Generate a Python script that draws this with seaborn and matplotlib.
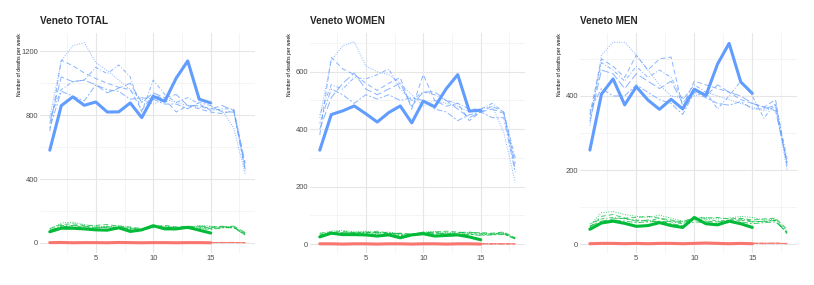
import pandas as pd
import numpy as np
import matplotlib
matplotlib.use("Agg")
import matplotlib.pyplot as plt
import seaborn as sns

weeks = list(range(1, 19))
weeks_2020 = list(range(1, 16))
years = [2015, 2016, 2017, 2018, 2019]

# ---- TOTAL ----
total_old = {
    2015: [790, 1140, 1235, 1255, 1130, 1080, 1020, 960, 900, 870, 900, 880, 860, 850, 840, 830, 720, 430],
    2016: [700, 1145, 1110, 1065, 1030, 1000, 975, 960, 830, 930, 900, 820, 860, 840, 820, 810, 830, 450],
    2017: [780, 960, 1010, 1020, 1100, 1060, 1115, 1040, 820, 1020, 930, 880, 910, 870, 830, 840, 840, 480],
    2018: [750, 1040, 1010, 1020, 990, 940, 970, 1000, 880, 940, 910, 930, 860, 860, 840, 860, 830, 500],
    2019: [720, 950, 920, 890, 990, 960, 950, 900, 910, 900, 870, 870, 840, 880, 860, 820, 820, 460],
}
total_old_2020 = [581, 860, 915, 862, 883, 820, 821, 877, 785, 918, 887, 1033, 1140, 900, 877]
total_mid = {
    2015: [85, 125, 130, 115, 105, 100, 110, 95, 85, 110, 105, 100, 95, 110, 105, 100, 100, 55],
    2016: [90, 115, 120, 110, 110, 115, 105, 100, 90, 100, 110, 100, 105, 100, 95, 105, 95, 60],
    2017: [75, 110, 105, 100, 100, 95, 100, 90, 80, 100, 95, 95, 100, 95, 90, 95, 100, 50],
    2018: [80, 100, 110, 105, 95, 100, 95, 85, 85, 105, 100, 90, 95, 105, 100, 100, 105, 65],
    2019: [70, 105, 100, 95, 90, 105, 90, 95, 80, 95, 100, 95, 90, 90, 85, 95, 95, 50],
}
total_mid_2020 = [70, 92, 92, 88, 82, 80, 95, 72, 82, 108, 88, 88, 98, 80, 62]
total_young = {
    2015: [3, 2, 4, 2, 3, 1, 2, 3, 4, 2, 3, 2, 1, 3, 2, 4, 3, 2],
    2016: [2, 4, 3, 1, 2, 3, 2, 1, 3, 4, 2, 3, 2, 2, 3, 2, 4, 1],
    2017: [4, 3, 2, 3, 1, 2, 4, 2, 2, 3, 1, 2, 3, 4, 2, 3, 2, 2],
    2018: [1, 2, 3, 4, 2, 3, 1, 3, 2, 2, 4, 3, 2, 1, 3, 2, 3, 1],
    2019: [2, 3, 1, 2, 4, 2, 3, 2, 1, 3, 2, 4, 3, 2, 1, 3, 2, 2],
}
total_young_2020 = [2, 3, 1, 2, 2, 1, 3, 2, 1, 2, 2, 1, 2, 2, 1]

# ---- WOMEN ----
women_old = {
    2015: [440, 640, 690, 705, 620, 600, 590, 560, 520, 480, 500, 490, 480, 460, 470, 480, 390, 215],
    2016: [380, 650, 610, 590, 560, 535, 560, 580, 470, 590, 500, 480, 490, 430, 460, 480, 460, 260],
    2017: [450, 555, 540, 580, 575, 590, 610, 540, 500, 530, 520, 500, 490, 470, 470, 490, 460, 300],
    2018: [400, 510, 560, 595, 540, 520, 540, 560, 480, 530, 530, 500, 470, 440, 460, 470, 455, 280],
    2019: [420, 540, 520, 490, 520, 505, 520, 500, 510, 500, 470, 460, 430, 450, 460, 440, 440, 250],
}
women_old_2020 = [327, 451, 464, 481, 454, 425, 458, 481, 422, 498, 478, 541, 590, 463, 466]
women_mid = {
    2015: [35, 45, 48, 42, 45, 40, 42, 35, 32, 42, 44, 40, 38, 40, 38, 35, 40, 20],
    2016: [38, 42, 44, 40, 38, 45, 38, 36, 35, 40, 42, 45, 42, 38, 40, 38, 42, 22],
    2017: [30, 40, 38, 42, 40, 38, 40, 32, 30, 38, 40, 38, 36, 35, 32, 36, 38, 18],
    2018: [32, 38, 40, 38, 42, 40, 36, 38, 34, 42, 38, 36, 40, 42, 36, 34, 36, 20],
    2019: [28, 36, 35, 34, 36, 34, 35, 30, 32, 35, 36, 34, 32, 34, 30, 32, 34, 18],
}
women_mid_2020 = [25, 38, 33, 33, 32, 28, 32, 22, 32, 36, 28, 30, 32, 25, 15]
women_young = {
    2015: [1, 2, 1, 0, 1, 2, 1, 1, 2, 0, 1, 1, 2, 1, 0, 1, 2, 1],
    2016: [2, 1, 0, 1, 2, 1, 0, 2, 1, 1, 2, 0, 1, 1, 2, 1, 0, 1],
    2017: [0, 1, 2, 1, 1, 0, 2, 1, 1, 2, 1, 1, 0, 2, 1, 1, 1, 0],
    2018: [1, 1, 1, 2, 0, 1, 1, 0, 2, 1, 0, 2, 1, 0, 1, 2, 1, 1],
    2019: [1, 0, 1, 1, 1, 2, 1, 1, 0, 1, 1, 1, 2, 1, 1, 0, 1, 1],
}
women_young_2020 = [1, 1, 0, 1, 1, 0, 1, 1, 0, 1, 1, 0, 1, 1, 0]

# ---- MEN ----
men_old = {
    2015: [320, 510, 545, 545, 510, 470, 430, 400, 395, 400, 410, 400, 390, 380, 370, 360, 370, 200],
    2016: [350, 500, 480, 450, 510, 470, 500, 505, 370, 440, 430, 420, 410, 390, 380, 370, 390, 210],
    2017: [340, 490, 470, 440, 480, 450, 470, 450, 390, 430, 410, 365, 400, 440, 400, 340, 380, 230],
    2018: [330, 470, 460, 420, 460, 440, 420, 440, 380, 420, 400, 430, 410, 400, 380, 370, 360, 220],
    2019: [360, 420, 400, 400, 430, 410, 390, 380, 350, 410, 395, 380, 375, 385, 365, 365, 375, 215],
}
men_old_2020 = [254, 405, 446, 376, 425, 389, 364, 391, 365, 418, 401, 486, 542, 438, 407]
men_mid = {
    2015: [50, 85, 88, 80, 75, 72, 78, 70, 62, 70, 72, 68, 70, 75, 72, 65, 68, 35],
    2016: [45, 75, 80, 70, 72, 75, 70, 65, 60, 72, 70, 72, 68, 70, 65, 68, 70, 40],
    2017: [55, 68, 72, 68, 65, 62, 70, 60, 55, 65, 68, 62, 65, 68, 62, 60, 65, 30],
    2018: [48, 62, 68, 70, 62, 65, 60, 62, 58, 68, 62, 60, 62, 65, 60, 62, 64, 28],
    2019: [42, 60, 65, 62, 58, 60, 62, 55, 50, 60, 58, 56, 58, 60, 55, 58, 60, 32],
}
men_mid_2020 = [40, 57, 62, 56, 48, 50, 58, 50, 45, 72, 55, 52, 62, 55, 45]
men_young = {
    2015: [2, 3, 2, 1, 2, 3, 2, 2, 3, 2, 3, 4, 2, 1, 2, 3, 2, 2],
    2016: [3, 2, 1, 2, 3, 2, 1, 3, 2, 3, 2, 3, 1, 2, 3, 2, 3, 1],
    2017: [1, 2, 3, 2, 2, 1, 3, 2, 1, 2, 4, 2, 3, 2, 1, 2, 2, 2],
    2018: [2, 1, 2, 3, 1, 2, 2, 1, 2, 1, 2, 3, 2, 3, 2, 1, 3, 1],
    2019: [2, 2, 1, 2, 3, 2, 2, 2, 1, 2, 3, 2, 2, 2, 2, 3, 1, 2],
}
men_young_2020 = [1, 2, 2, 1, 2, 1, 2, 2, 1, 2, 3, 2, 1, 2, 1]

panels = [
    ("Veneto TOTAL", total_young, total_young_2020, total_mid, total_mid_2020, total_old, total_old_2020,
     (-63, 1315), [0, 400, 800, 1200], [200, 600, 1000]),
    ("Veneto WOMEN", women_young, women_young_2020, women_mid, women_mid_2020, women_old, women_old_2020,
     (-31, 735), [0, 200, 400, 600], [100, 300, 500, 700]),
    ("Veneto MEN", men_young, men_young_2020, men_mid, men_mid_2020, men_old, men_old_2020,
     (-24, 570), [0, 200, 400], [100, 300, 500]),
]

palette = {"0-14": "#F8766D", "15-64": "#00BA38", "65+": "#619CFF"}
dashes = {2015: (1, 1.5), 2016: (5, 3), 2017: (1, 2, 4, 2), 2018: (8, 3), 2019: (2, 2, 6, 2)}


def build_frames(young, young20, mid, mid20, old, old20):
    rows = []
    for grp, d in (("0-14", young), ("15-64", mid), ("65+", old)):
        for y in years:
            for w, v in zip(weeks, d[y]):
                rows.append((grp, y, w, v))
    past = pd.DataFrame(rows, columns=["group", "year", "week", "deaths"])
    rows = []
    for grp, vals in (("0-14", young20), ("15-64", mid20), ("65+", old20)):
        for w, v in zip(weeks_2020, vals):
            rows.append((grp, 2020, w, v))
    cur = pd.DataFrame(rows, columns=["group", "year", "week", "deaths"])
    return past, cur


sns.set_style("white")
plt.rcParams["font.family"] = ["Liberation Sans", "DejaVu Sans"]

fig = plt.figure(figsize=(8.14, 2.85), dpi=100)
W, H = 814, 285
lefts = [40, 310, 580]
widths = [215, 215, 217]
top_px, bot_px = 33, 253

for i, (title, yg, yg20, md, md20, od, od20, ylim, yt, ymin) in enumerate(panels):
    ax = fig.add_axes([lefts[i] / W, 1 - bot_px / H, widths[i] / W, (bot_px - top_px) / H])
    past, cur = build_frames(yg, yg20, md, md20, od, od20)

    # ggplot-like minimal grid
    for v in [2.5, 7.5, 12.5, 17.5]:
        ax.axvline(v, color="#F0F0F0", lw=0.5, zorder=0)
    for v in ymin:
        ax.axhline(v, color="#F0F0F0", lw=0.5, zorder=0)
    for v in [5, 10, 15]:
        ax.axvline(v, color="#E6E6E6", lw=0.8, zorder=0)
    for v in yt:
        ax.axhline(v, color="#E6E6E6", lw=0.8, zorder=0)

    sns.lineplot(data=past, x="week", y="deaths", hue="group", style="year",
                 palette=palette, dashes=dashes, lw=0.7, alpha=0.75,
                 legend=False, ax=ax, estimator=None)
    sns.lineplot(data=cur, x="week", y="deaths", hue="group",
                 palette=palette, lw=2.2, legend=False, ax=ax, estimator=None)

    ax.set_xlim(0.15, 18.85)
    ax.set_ylim(*ylim)
    ax.set_xticks([5, 10, 15])
    ax.set_yticks(yt)
    ax.tick_params(length=0, labelsize=5.5, labelcolor="#4D4D4D", pad=1.5)
    for s in ax.spines.values():
        s.set_visible(False)
    ax.set_xlabel("")
    ax.set_ylabel("Number of deaths per week", fontsize=3.6, color="black", loc="top")
    ax.yaxis.set_label_coords(-18 / widths[i], 1.0)
    ax.text(0, 1.055, title, transform=ax.transAxes, fontsize=7.2, fontweight="bold",
            ha="left", va="center")

fig.savefig("out.png", dpi=100)
